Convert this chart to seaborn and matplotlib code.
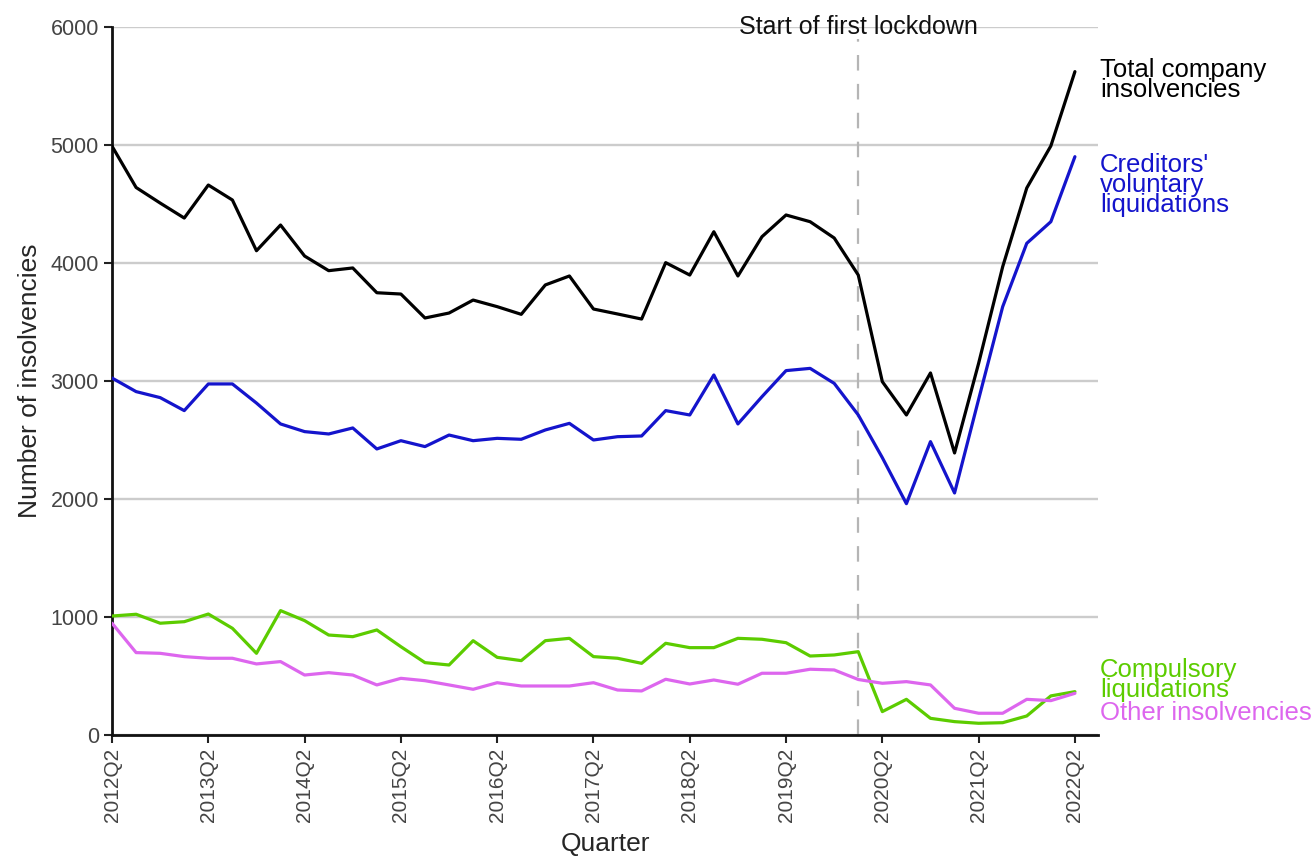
import pandas as pd
import seaborn as sns
import matplotlib.pyplot as plt

# Quarters 2012Q2 .. 2022Q2
quarters = [f"{y}Q{q}" for y in range(2012, 2023) for q in range(1, 5)][1:42]

total = [4990, 4640, 4508, 4381, 4661, 4534, 4104, 4322, 4059, 3935, 3958,
         3748, 3737, 3534, 3576, 3686, 3630, 3565, 3814, 3890, 3610, 3568,
         3525, 4003, 3898, 4265, 3890, 4223, 4407, 4350, 4212, 3898, 2994,
         2712, 3068, 2390, 3150, 3969, 4636, 4992, 5622]
cvl = [3025, 2910, 2859, 2749, 2975, 2975, 2813, 2636, 2571, 2551, 2602,
       2424, 2494, 2444, 2542, 2494, 2514, 2506, 2585, 2641, 2500, 2528,
       2534, 2749, 2712, 3051, 2636, 2867, 3088, 3107, 2980, 2712, 2350,
       1960, 2486, 2051, 2845, 3630, 4167, 4350, 4901]
compulsory = [1008, 1023, 947, 960, 1025, 904, 692, 1054, 969, 847, 833,
              890, 748, 613, 593, 799, 658, 630, 799, 819, 664, 650,
              607, 777, 740, 740, 819, 811, 782, 669, 678, 706, 198,
              302, 141, 113, 99, 104, 161, 331, 367]
other = [947, 698, 692, 664, 650, 650, 602, 622, 508, 528, 508,
         424, 480, 460, 424, 387, 443, 415, 415, 415, 443, 381,
         373, 472, 432, 466, 430, 523, 523, 557, 551, 470, 438,
         452, 424, 226, 184, 184, 302, 291, 353]

series_names = ["Total company\ninsolvencies", "Creditors'\nvoluntary\nliquidations",
                "Compulsory\nliquidations", "Other insolvencies"]
series_colors = ["#000000", "#1414cc", "#5ccc00", "#dd66ee"]
lockdown_quarter = "2020Q1"
tick_quarters = quarters[::4]

df = pd.DataFrame({"Quarter": quarters, "total": total, "cvl": cvl,
                   "compulsory": compulsory, "other": other})
df["idx"] = range(len(df))
long = df.melt(id_vars=["Quarter", "idx"], value_vars=["total", "cvl", "compulsory", "other"],
               var_name="series", value_name="count")

sns.set_style("white")
plt.rcParams["font.family"] = ["Liberation Sans", "DejaVu Sans"]

fig = plt.figure(figsize=(13.15, 8.58), dpi=100)
ax = fig.add_axes([0.0852, 0.1434, 0.7498, 0.8251])

sns.lineplot(data=long, x="idx", y="count", hue="series",
             palette=dict(zip(["total", "cvl", "compulsory", "other"], series_colors)),
             linewidth=2.3, legend=False, ax=ax, zorder=3)

# lockdown marker
lx = quarters.index(lockdown_quarter)
ax.plot([lx, lx], [0, 5900], color="#b5b5b5", linewidth=1.6, dashes=(7, 6), zorder=2)
ax.text(lx, 6000, "Start of first lockdown", ha="center", va="center",
        fontsize=18, color="#111111", zorder=4)

ax.set_xlim(0, len(quarters) - 1 + 0.96)
ax.set_ylim(0, 6000)
ax.set_yticks(range(0, 6001, 1000))
ax.yaxis.grid(True, color="#cccccc", linewidth=1.7)
ax.set_axisbelow(True)

ax.set_xticks([quarters.index(q) for q in tick_quarters])
ax.set_xticklabels(tick_quarters, rotation=90, fontsize=15, color="#444444")
ax.tick_params(axis="y", labelsize=15.5, labelcolor="#444444")
ax.tick_params(axis="both", direction="out", length=6, width=1.5, color="#222222",
               bottom=True, left=True)

for s in ["top", "right"]:
    ax.spines[s].set_visible(False)
for s in ["left", "bottom"]:
    ax.spines[s].set_color("#111111")
    ax.spines[s].set_linewidth(2)

ax.set_xlabel("Quarter", fontsize=19, labelpad=7)
ax.set_ylabel("Number of insolvencies", fontsize=19, labelpad=6)

# right-hand series labels
label_y = [5550, 4660, 466, 186]
for name, col, yv in zip(series_names, series_colors, label_y):
    ax.text(len(quarters) - 1 + 1.05, yv, name, color=col, fontsize=18.5,
            va="center", ha="left", linespacing=0.78)

fig.savefig("out.png", dpi=100)
